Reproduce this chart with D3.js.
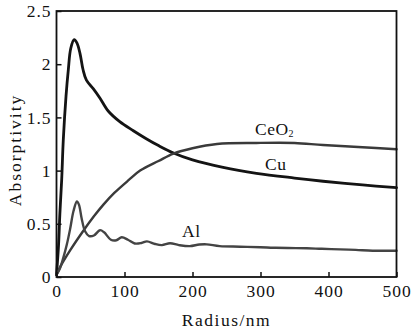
<!DOCTYPE html>
<html>
<head>
<meta charset="utf-8">
<script src="https://cdn.jsdelivr.net/npm/d3@7"></script>
<style>
  html, body { margin: 0; padding: 0; background: #fff; }
</style>
</head>
<body>
<svg id="chart"></svg>
<script>
const width = 412;
const height = 329;
const serif = 'Liberation Serif';

const xTicks = [0, 100, 200, 300, 400, 500];
const yTicks = [0, 0.5, 1, 1.5, 2, 2.5];

// Radius (nm) and absorptivity
const cuRadius = [0, 3, 5, 7.6, 10, 14, 17.4, 21, 26, 30, 34.6, 39, 44, 54, 64, 76, 93, 113, 132, 150, 172, 200, 245, 294, 350, 392, 450, 500];
const cuValue = [0.02, 0.3, 0.6, 0.91, 1.29, 1.7, 1.95, 2.15, 2.23, 2.2, 2.1, 1.95, 1.85, 1.77, 1.68, 1.56, 1.46, 1.375, 1.3, 1.235, 1.165, 1.1, 1.03, 0.975, 0.93, 0.9, 0.865, 0.84];

const ceo2Radius = [0, 5, 20, 39, 55, 69, 85, 106, 123, 150, 172, 200, 236, 294, 350, 392, 450, 500];
const ceo2Value = [0.02, 0.09, 0.25, 0.43, 0.57, 0.68, 0.79, 0.91, 1.0, 1.09, 1.16, 1.21, 1.25, 1.26, 1.26, 1.24, 1.22, 1.2];

const alRadius = [0, 5, 10, 15, 20, 25, 30, 33, 37, 42, 48, 55, 64, 70, 80, 88, 96, 105, 115, 125, 133, 145, 155, 167, 180, 196, 210, 221, 240, 270, 300, 319, 340, 368, 390, 417, 440, 465, 500];
const alValue = [0.02, 0.08, 0.18, 0.3, 0.45, 0.62, 0.71, 0.68, 0.55, 0.43, 0.385, 0.39, 0.44, 0.42, 0.35, 0.345, 0.373, 0.35, 0.315, 0.32, 0.335, 0.31, 0.3, 0.317, 0.3, 0.29, 0.305, 0.307, 0.29, 0.285, 0.28, 0.275, 0.272, 0.27, 0.265, 0.26, 0.255, 0.247, 0.247];

const series = [
  { name: 'Cu', r: cuRadius, v: cuValue, color: '#141414', width: 2.8 },
  { name: 'CeO2', r: ceo2Radius, v: ceo2Value, color: '#3a3a3a', width: 2.4 },
  { name: 'Al', r: alRadius, v: alValue, color: '#444', width: 2.4 },
];

const x = d3.scaleLinear().domain([0, 500]).range([56.5, 396.5]);
const y = d3.scaleLinear().domain([0, 2.5]).range([277, 11]);

const svg = d3.select('#chart')
  .attr('width', width)
  .attr('height', height)
  .attr('viewBox', `0 0 ${width} ${height}`);

svg.append('rect')
  .attr('width', width).attr('height', height)
  .attr('fill', '#fff');

const line = d3.line()
  .x(d => x(d[0]))
  .y(d => y(d[1]))
  .curve(d3.curveCatmullRom.alpha(0.5));

series.forEach(s => {
  svg.append('path')
    .attr('d', line(s.r.map((r, i) => [r, s.v[i]])))
    .attr('fill', 'none')
    .attr('stroke', s.color)
    .attr('stroke-width', s.width)
    .attr('stroke-linejoin', 'round')
    .attr('stroke-linecap', 'round');
});

// axes, ticks pointing inward
const xAxis = d3.axisBottom(x)
  .tickValues(xTicks)
  .tickFormat(d3.format('d'))
  .tickSizeInner(-5)
  .tickSizeOuter(0)
  .tickPadding(8);

const yAxis = d3.axisLeft(y)
  .tickValues(yTicks)
  .tickFormat(d => String(d))
  .tickSizeInner(-5)
  .tickSizeOuter(0)
  .tickPadding(5);

const gx = svg.append('g')
  .attr('transform', `translate(0, ${y(0)})`)
  .call(xAxis);

const gy = svg.append('g')
  .attr('transform', `translate(${x(0)}, 0)`)
  .call(yAxis);

[gx, gy].forEach(g => {
  g.attr('font-family', serif).attr('font-size', 17.5);
  g.select('.domain').remove();
  g.selectAll('line').attr('stroke', '#111').attr('stroke-width', 1.5);
  g.selectAll('text')
    .attr('fill', '#111')
    .attr('font-family', serif)
    .attr('letter-spacing', 1);
});

// frame
svg.append('rect')
  .attr('x', x(0)).attr('y', y(2.5))
  .attr('width', x(500) - x(0))
  .attr('height', y(0) - y(2.5))
  .attr('fill', 'none')
  .attr('stroke', '#111')
  .attr('stroke-width', 1.8);

function label(sel) {
  return sel.attr('fill', '#111')
    .attr('font-family', serif)
    .attr('font-size', 17.5);
}

// axis titles
label(svg.append('text'))
  .attr('x', (x(0) + x(500)) / 2)
  .attr('y', 326)
  .attr('text-anchor', 'middle')
  .attr('letter-spacing', 1.5)
  .text('Radius/nm');

label(svg.append('text'))
  .attr('transform', 'translate(21, 150) rotate(-90)')
  .attr('text-anchor', 'middle')
  .attr('letter-spacing', 2)
  .text('Absorptivity');

// curve labels
const ceLabel = label(svg.append('text'))
  .attr('x', 255).attr('y', 135)
  .attr('letter-spacing', 0.5);
ceLabel.append('tspan').text('CeO');
ceLabel.append('tspan')
  .attr('dy', 2)
  .attr('font-size', 10)
  .text('2');

label(svg.append('text'))
  .attr('x', 265).attr('y', 170)
  .attr('letter-spacing', 0.5)
  .text('Cu');

label(svg.append('text'))
  .attr('x', 182).attr('y', 237)
  .attr('letter-spacing', 0.5)
  .text('Al');
</script>
</body>
</html>
